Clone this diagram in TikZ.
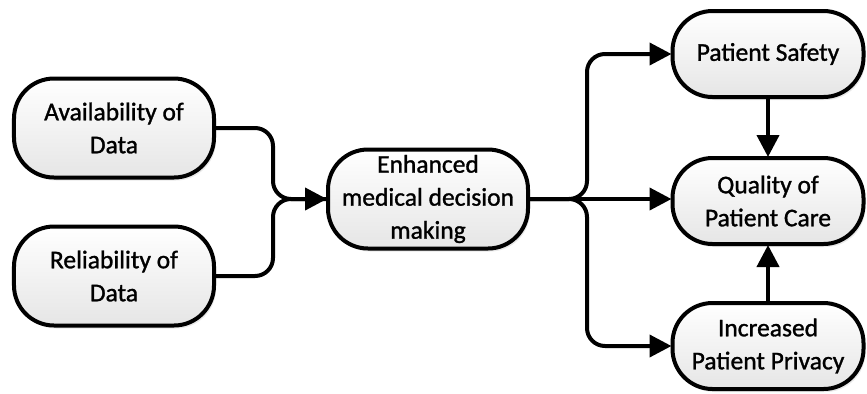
\documentclass[tikz,border=0pt]{standalone}
\usepackage{fontspec}
\setmainfont[FakeBold=1.2]{Carlito}
\usetikzlibrary{arrows.meta,shadows}
\begin{document}
\begin{tikzpicture}[x=1bp,y=-1bp,
  box/.style={draw=black, line width=4bp, rounded corners=40bp,
    top color=white, bottom color=black!10,
    drop shadow={opacity=0.18, shadow xshift=2bp, shadow yshift=-3bp},
    align=center, inner sep=0pt,
    font=\fontsize{25.5bp}{33bp}\selectfont},
  bigbox/.style={box, minimum width=200bp, minimum height=99bp},
  smallbox/.style={box, minimum width=191bp, minimum height=86bp},
  conn/.style={line width=4bp, rounded corners=18bp},
  arr/.style={conn, -{Triangle[length=22bp,width=22bp]}, shorten >=-1bp}
]
\useasboundingbox (0,0) rectangle (867,393);
\node[bigbox] (avail) at (114,128) {Availability of\\Data};
\node[bigbox] (rel) at (114,276) {Reliability of\\Data};
\node[bigbox] (emd) at (428,199) {Enhanced\\medical decision\\making};
\node[smallbox] (ps) at (768,54) {Patient Safety};
\node[smallbox] (qpc) at (768,201) {Quality of\\Patient Care};
\node[smallbox] (ipp) at (768,346) {Increased\\Patient Privacy};
\coordinate (merge) at (273,199);
\coordinate (bus) at (587,199);
\draw[conn] (avail.east) -| (merge) -- (emd.west);
\draw[arr] (rel.east) -| (merge) -- (emd.west);
\draw[arr] (emd.east) -- (bus) |- (ps.west);
\draw[arr] (emd.east) -- (bus) |- (ipp.west);
\draw[arr] (emd.east) -- (emd.east -| qpc.west);
\draw[arr] (ps.south) -- (qpc.north);
\draw[arr] (ipp.north) -- (qpc.south);
\end{tikzpicture}
\end{document}
